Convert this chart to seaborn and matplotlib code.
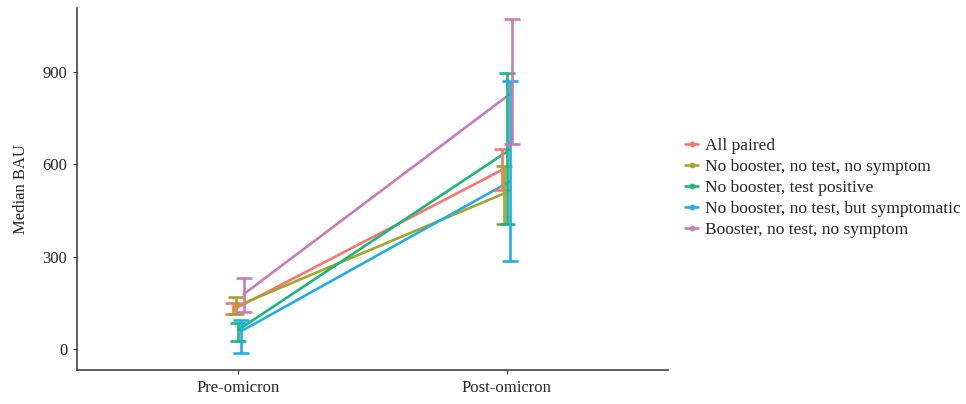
import numpy as np
import pandas as pd
import matplotlib
matplotlib.use("Agg")
import matplotlib.pyplot as plt
from matplotlib.lines import Line2D
import seaborn as sns

periods = ["Pre-omicron", "Post-omicron"]
groups = [
    "All paired",
    "No booster, no test, no symptom",
    "No booster, test positive",
    "No booster, no test, but symptomatic",
    "Booster, no test, no symptom",
]
colors = ["#F8766D", "#A3A52C", "#1DB67A", "#22ACE6", "#C77CBA"]

# median, lower, upper per group (pre, post)
median_pre = [128, 138, 62, 58, 178]
median_post = [582, 506, 641, 544, 834]
lower_pre = [114, 114, 26, -13, 121]
lower_post = [517, 406, 406, 287, 666]
upper_pre = [149, 168, 84, 94, 230]
upper_post = [650, 596, 898, 872, 1072]

dodge = [-0.018, -0.009, 0.0, 0.011, 0.020]

rows = []
for i, g in enumerate(groups):
    for j, p in enumerate(periods):
        rows.append({
            "group": g, "period": p,
            "xpos": j + dodge[i],
            "median": [median_pre, median_post][j][i],
            "lo": [lower_pre, lower_post][j][i],
            "hi": [upper_pre, upper_post][j][i],
        })
df = pd.DataFrame(rows)

sns.set_style("white")
plt.rcParams["font.family"] = ["Liberation Serif", "DejaVu Serif"]

fig = plt.figure(figsize=(9.66, 4.04), dpi=100)
ax = fig.add_axes([77 / 966, 1 - 370 / 404, (668 - 77) / 966, (370 - 8) / 404])

palette = dict(zip(groups, colors))
sns.lineplot(data=df, x="xpos", y="median", hue="group", hue_order=groups,
             palette=palette, linewidth=1.9, legend=False, ax=ax, sort=True)

for g, c in zip(groups, colors):
    sub = df[df["group"] == g]
    ax.errorbar(sub["xpos"], sub["median"],
                yerr=[sub["median"] - sub["lo"], sub["hi"] - sub["median"]],
                fmt="none", ecolor=c, elinewidth=1.9, capsize=5.8, capthick=1.9)

ax.set_xlim(-0.6, 1.6)
ax.set_ylim(-68, 1108)
ax.set_xticks([0, 1])
ax.set_xticklabels(periods, fontsize=12)
ax.set_yticks([0, 300, 600, 900])
ax.tick_params(axis="y", labelsize=12, length=3, color="#333333", pad=4)
ax.tick_params(axis="x", length=3, color="#333333", pad=4)
ax.tick_params(axis="both", which="major", left=True, bottom=True)
ax.set_xlabel("")
ax.set_ylabel("Median BAU", fontsize=12, labelpad=10)
for side in ["top", "right"]:
    ax.spines[side].set_visible(False)
for side in ["left", "bottom"]:
    ax.spines[side].set_color("#333333")
    ax.spines[side].set_linewidth(1.1)

handles = [Line2D([0], [0], color=c, lw=1.9, marker="o", markersize=3.2)
           for c in colors]
fig.legend(handles, groups, loc="center left", bbox_to_anchor=(0.693, 0.535),
           frameon=False, fontsize=12.5, handlelength=0.75, handletextpad=0.4,
           labelspacing=0.28)

plt.savefig("out.png", dpi=100)
plt.close()
